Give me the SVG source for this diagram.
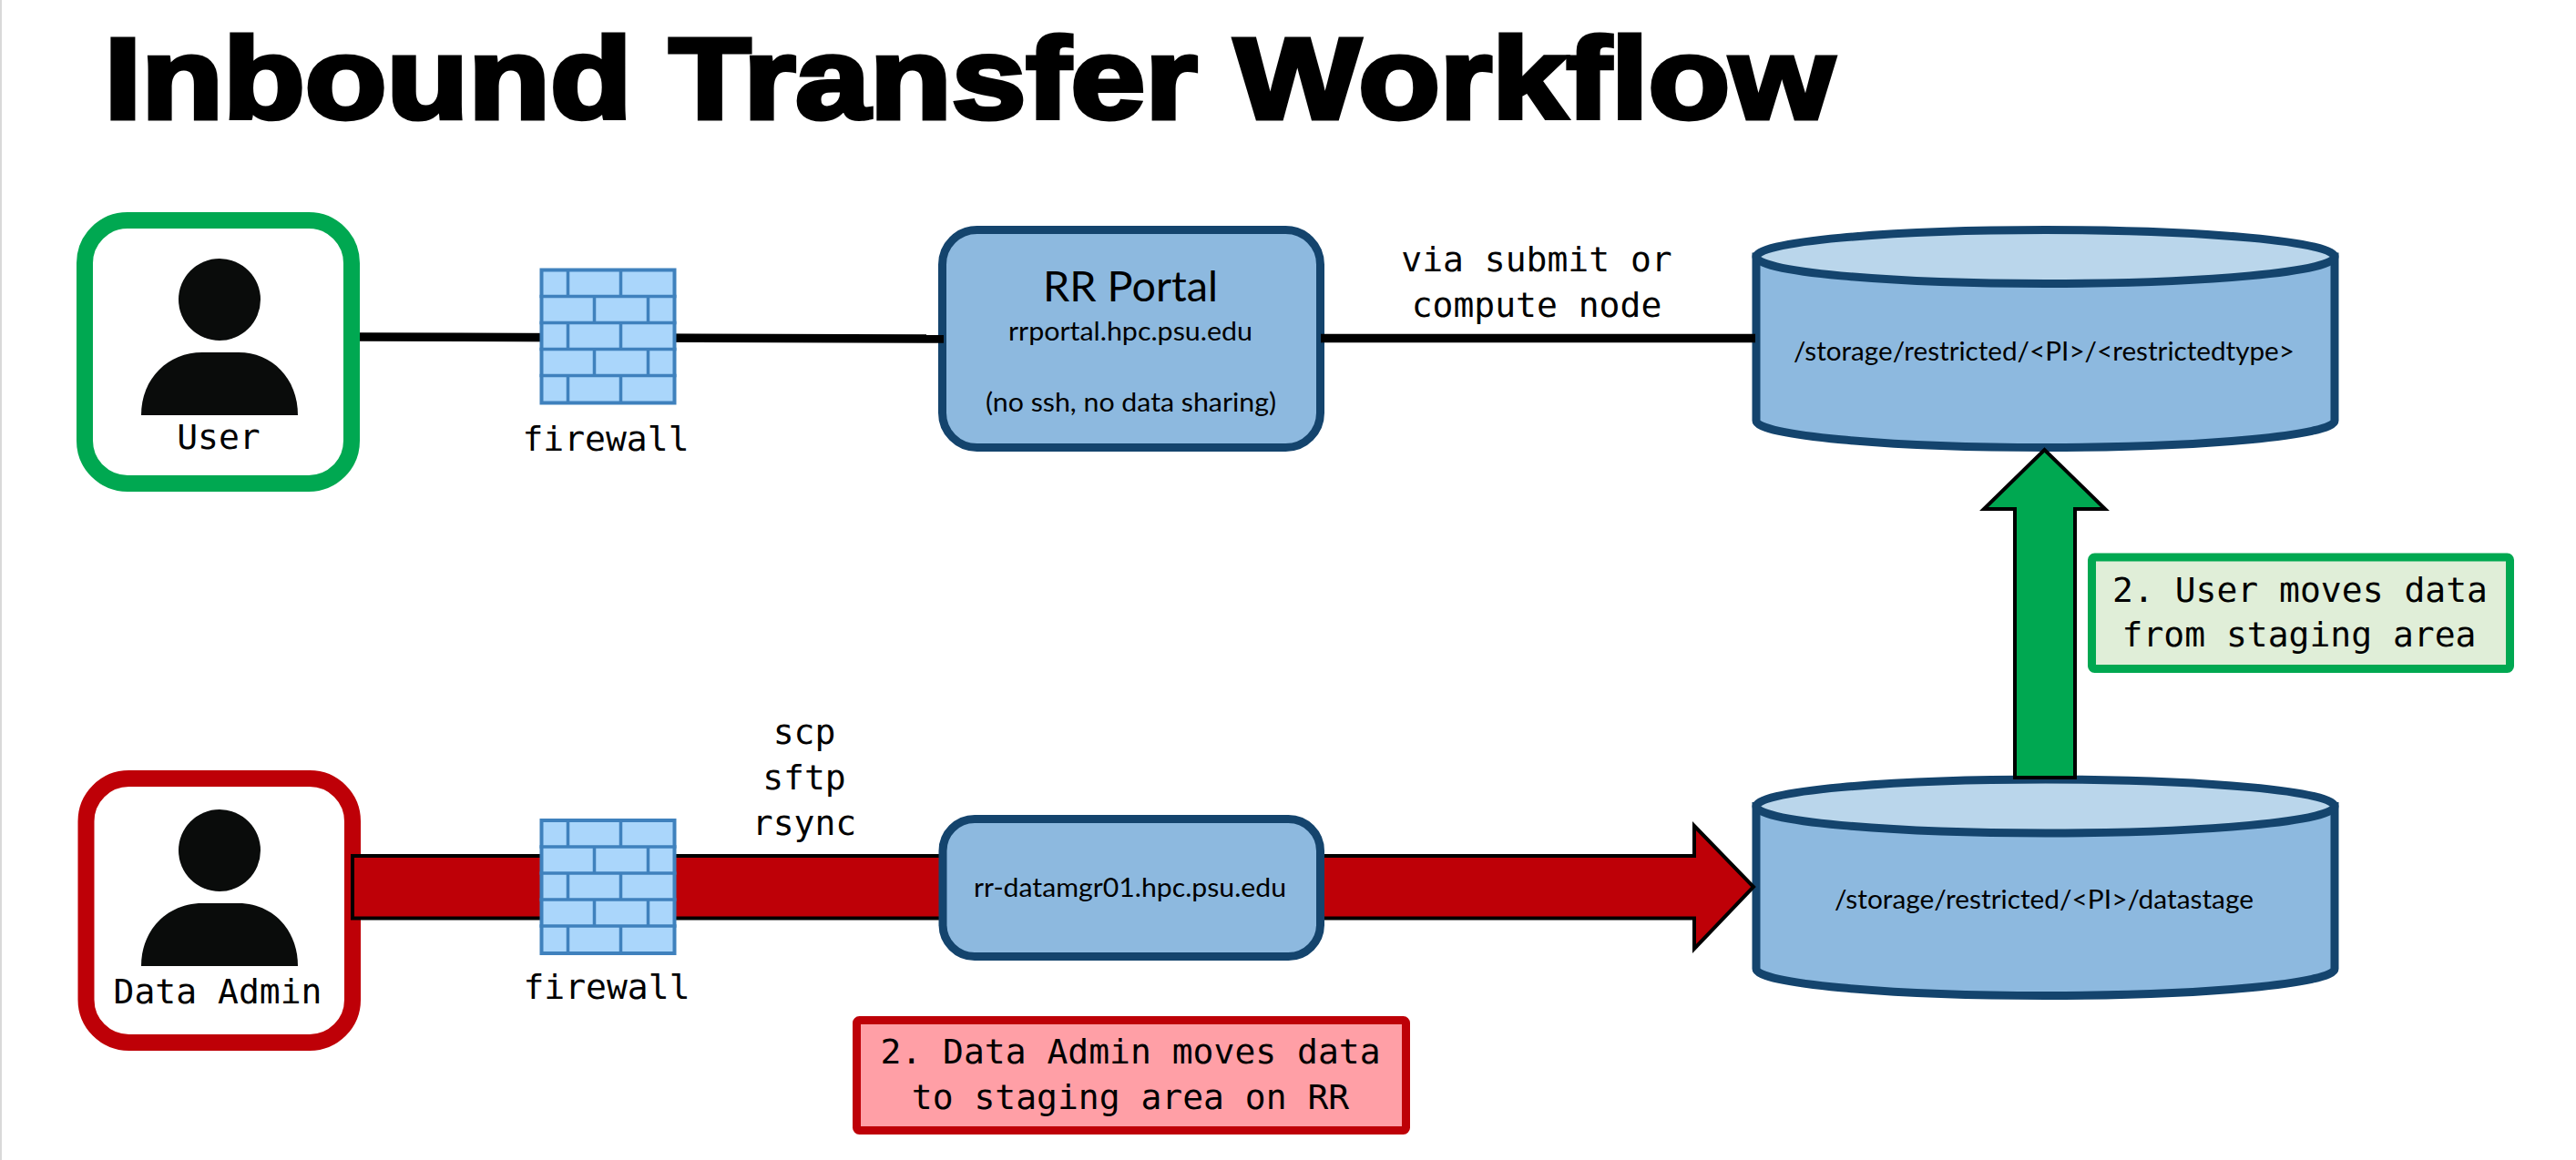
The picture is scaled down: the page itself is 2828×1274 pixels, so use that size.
<svg xmlns="http://www.w3.org/2000/svg" xmlns:xlink="http://www.w3.org/1999/xlink" width="2828" height="1274" viewBox="0 0 2828 1274">
<style>
.mono{font-family:"DejaVu Sans Mono","Liberation Mono",monospace;font-size:38px;fill:#000;text-anchor:middle}
.sans{font-family:Lato,"Open Sans",sans-serif;fill:#000;text-anchor:middle}
.blue{fill:#8db9df;stroke:#14446d;stroke-width:9}
.top{fill:#bad6eb;stroke:#14446d;stroke-width:9}
.person{fill:#0a0c0b}
.arrow{stroke:#000;stroke-width:4;stroke-linejoin:miter}
</style>
<defs>
<g id="fw">
<rect x="2" y="2" width="146" height="146" fill="#aad6fb" stroke="#3f81bd" stroke-width="4"/>
<path d="M0 31H150M0 60H150M0 89H150M0 118H150M31 2V31M89 2V31M60 31V60M119 31V60M31 60V89M89 60V89M60 89V118M119 89V118M31 118V148M89 118V148" fill="none" stroke="#3f81bd" stroke-width="3.5"/>
</g>
<g id="person">
<circle cx="241" cy="329" r="45" class="person"/>
<path class="person" d="M155 456C155 415 185 387 222 387H262C298 387 327 415 327 456Z"/>
</g>
</defs>
<rect width="2828" height="1274" fill="#fff"/>
<rect width="2" height="1274" fill="#d9d9d9"/>
<text id="title" x="1064" y="129.500" font-family="'Liberation Sans',Arial,sans-serif" font-weight="700" font-size="126" text-anchor="middle" stroke="#000" stroke-width="5" stroke-linejoin="miter" textLength="1899" lengthAdjust="spacingAndGlyphs">Inbound Transfer Workflow</text>

<g id="user">
<rect x="93" y="242" width="293" height="289" rx="47" fill="#fff" stroke="#00a851" stroke-width="18"/>
<use xlink:href="#person" href="#person"/>
<text class="mono" x="240" y="493">User</text>
</g>
<g id="admin">
<rect x="94.500" y="855" width="292.500" height="290" rx="47" fill="#fff" stroke="#be0007" stroke-width="18"/>
<use xlink:href="#person" href="#person" y="605"/>
<text class="mono" x="239" y="1102">Data Admin</text>
</g>

<g id="portal">
<rect class="blue" x="1034.500" y="252.500" width="415" height="239" rx="38"/>
<text class="sans" x="1241" y="331" font-size="46" textLength="192" lengthAdjust="spacingAndGlyphs">RR Portal</text>
<text class="sans" x="1241" y="374" font-size="28" textLength="268" lengthAdjust="spacingAndGlyphs">rrportal.hpc.psu.edu</text>
<text class="sans" x="1241.500" y="452" font-size="28" textLength="319" lengthAdjust="spacingAndGlyphs">(no ssh, no data sharing)</text>
</g>
<g id="restricted">
<path class="blue" d="M1928 282V462C1928 478 2070 491.500 2245.500 491.500S2563 478 2563 462V282Z"/>
<ellipse class="top" cx="2245.500" cy="282" rx="317.500" ry="29.500"/>
<text class="sans" x="2244" y="396" font-size="28" textLength="550" lengthAdjust="spacingAndGlyphs">/storage/restricted/&lt;PI&gt;/&lt;restrictedtype&gt;</text>
</g>
<g id="datastage">
<path class="blue" d="M1928 885.500V1064C1928 1080 2070 1093.500 2245.500 1093.500S2563 1080 2563 1064V885.500Z"/>
<ellipse class="top" cx="2245.500" cy="885.500" rx="317.500" ry="29.500"/>
<text class="sans" x="2244" y="998" font-size="28" textLength="460" lengthAdjust="spacingAndGlyphs">/storage/restricted/&lt;PI&gt;/datastage</text>
</g>

<g id="connectors">
<path d="M395 370L1036 372" fill="none" stroke="#000" stroke-width="9.500"/>
<path d="M1450 371.500H1927" fill="none" stroke="#000" stroke-width="9.500"/>
<path id="red-arrow" class="arrow" fill="#be0007" d="M387 940H1860V907L1925 974L1860 1042V1008.500H387Z"/>
<path id="green-arrow" class="arrow" fill="#00a851" d="M2212 854V559H2178L2244.500 494L2311 559H2278V854Z"/>
</g>

<g id="firewall1"><use xlink:href="#fw" href="#fw" x="592.500" y="294.500"/><text class="mono" x="665" y="495">firewall</text></g>
<g id="firewall2"><use xlink:href="#fw" href="#fw" x="592.500" y="899"/><text class="mono" x="666" y="1097">firewall</text></g>

<g id="datamgr">
<rect class="blue" x="1035" y="899.500" width="414.500" height="151" rx="35"/>
<text class="sans" x="1240.500" y="985" font-size="28" textLength="343" lengthAdjust="spacingAndGlyphs">rr-datamgr01.hpc.psu.edu</text>
</g>

<g id="note-user">
<rect x="2296.500" y="612" width="459" height="122.500" rx="3" fill="#e0eed8" stroke="#00a851" stroke-width="9"/>
<text class="mono" x="2525" y="661">2. User moves data</text>
<text class="mono" x="2524" y="710">from staging area</text>
</g>
<g id="note-admin">
<rect x="940.500" y="1120.500" width="603" height="121" rx="3" fill="#ff9fa6" stroke="#be0007" stroke-width="9"/>
<text class="mono" x="1241" y="1168">2. Data Admin moves data</text>
<text class="mono" x="1241" y="1218">to staging area on RR</text>
</g>
<g id="labels">
<text class="mono" x="1687" y="298">via submit or</text>
<text class="mono" x="1687" y="348">compute node</text>
<text class="mono" x="883" y="817">scp</text>
<text class="mono" x="883" y="867">sftp</text>
<text class="mono" x="883" y="917">rsync</text>
</g>
</svg>
